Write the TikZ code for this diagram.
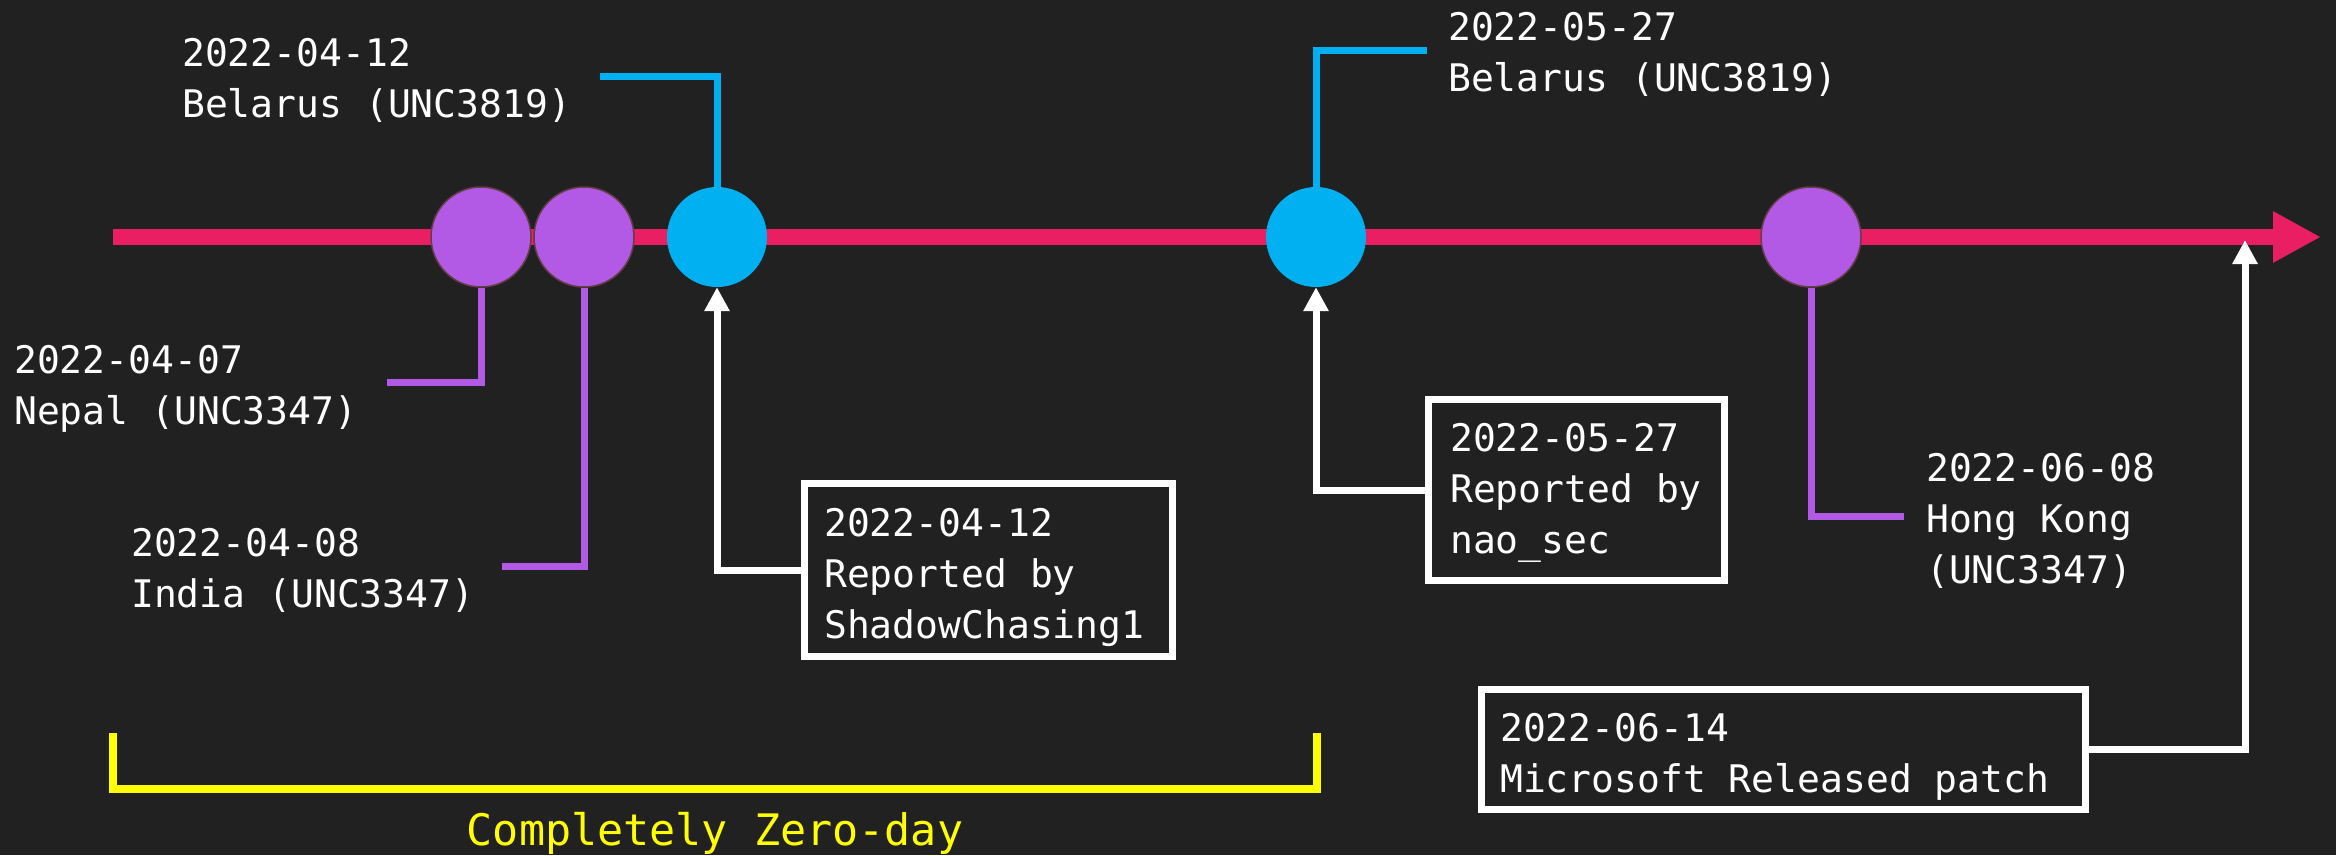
\documentclass[tikz,border=0pt]{standalone}
\usepackage{fontspec}
\newfontfamily\monofam{DejaVu Sans Mono}
\usetikzlibrary{arrows.meta}
\definecolor{bgc}{RGB}{33,33,33}
\definecolor{tline}{RGB}{233,30,99}
\definecolor{purp}{RGB}{178,89,230}
\definecolor{purpedge}{RGB}{100,60,70}
\definecolor{bluec}{RGB}{0,176,240}
\definecolor{yel}{RGB}{255,255,0}
\tikzset{
  lbl/.style={anchor=north west, inner sep=0pt, align=left, text=white,
    font=\monofam\fontsize{38}{51}\selectfont},
  evp/.style={circle, fill=purp, draw=purpedge, line width=1.5pt, minimum size=100pt, inner sep=0pt},
  evb/.style={circle, fill=bluec, minimum size=100pt, inner sep=0pt},
  pconn/.style={draw=purp, line width=7pt},
  bconn/.style={draw=bluec, line width=7pt},
  wbox/.style={draw=white, line width=7pt, inner sep=0pt},
  warr/.style={draw=white, line width=7pt, -{Triangle[length=24pt 0 0, width=24pt 0 0]}},
}
\begin{document}
\begin{tikzpicture}[x=1pt,y=-1pt]
\fill[bgc] (0,0) rectangle (2336,855);
\useasboundingbox (0,0) rectangle (2336,855);
% timeline
\coordinate (ts) at (113,237);
\coordinate (te) at (2321,237);
\draw[tline, line width=16pt, -{Triangle[length=48pt 0 0, width=48pt 0 0]}] (ts) -- (te);
% events
\node[evp] (p1) at (481,237) {};
\node[evp] (p2) at (584,237) {};
\node[evb] (b1) at (717,237) {};
\node[evb] (b2) at (1316,237) {};
\node[evp] (p3) at (1811,237) {};
% connector ends
\coordinate (b1c) at (600,76);
\coordinate (b2c) at (1427,50);
\coordinate (p1c) at (387,382);
\coordinate (p2c) at (502,566);
\coordinate (p3c) at (1904,516);
\draw[bconn] (b1.north) |- (b1c);
\draw[bconn] (b2.north) |- (b2c);
\draw[pconn] (p1.south) |- (p1c);
\draw[pconn] (p2.south) |- (p2c);
\draw[pconn] (p3.south) |- (p3c);
% labels
\node[lbl] (l1) at (182,38) {2022-04-12\\Belarus (UNC3819)};
\node[lbl] (l2) at (14,345) {2022-04-07\\Nepal (UNC3347)};
\node[lbl] (l3) at (131,528) {2022-04-08\\India (UNC3347)};
\node[lbl] (l4) at (1448,12) {2022-05-27\\Belarus (UNC3819)};
\node[lbl] (l5) at (1926,453) {2022-06-08\\Hong Kong\\(UNC3347)};
% boxes
\node[wbox, minimum width=368pt, minimum height=173pt] (rep1) at (988.5,570) {};
\node[lbl] (rep1t) at (824,508) {2022-04-12\\Reported by\\ShadowChasing1};
\node[wbox, minimum width=296pt, minimum height=181pt] (rep2) at (1576.5,490) {};
\node[lbl] (rep2t) at (1450,423) {2022-05-27\\Reported by\\nao\_sec};
\node[wbox, minimum width=604pt, minimum height=120pt] (patch) at (1783.5,749.5) {};
\node[lbl] (patcht) at (1500,713) {2022-06-14\\Microsoft Released patch};
% white arrows
\coordinate (ptip) at (2245,240);
\draw[warr] (rep1.west) -| (b1.south);
\draw[warr] (rep2.west) -| (b2.south);
\draw[warr] (patch.east) -| (ptip);
% zero-day bracket
\coordinate (z1) at (112.5,733);
\coordinate (z2) at (112.5,789);
\coordinate (z3) at (1317,789);
\coordinate (z4) at (1317,733);
\draw[yel, line width=8pt] (z1) -- (z2) -- (z3) -- (z4);
\node[anchor=base, inner sep=0pt, text=yel, font=\monofam\fontsize{43.4}{52}\selectfont] (zd) at (715,845) {Completely Zero-day};
\end{tikzpicture}
\end{document}
